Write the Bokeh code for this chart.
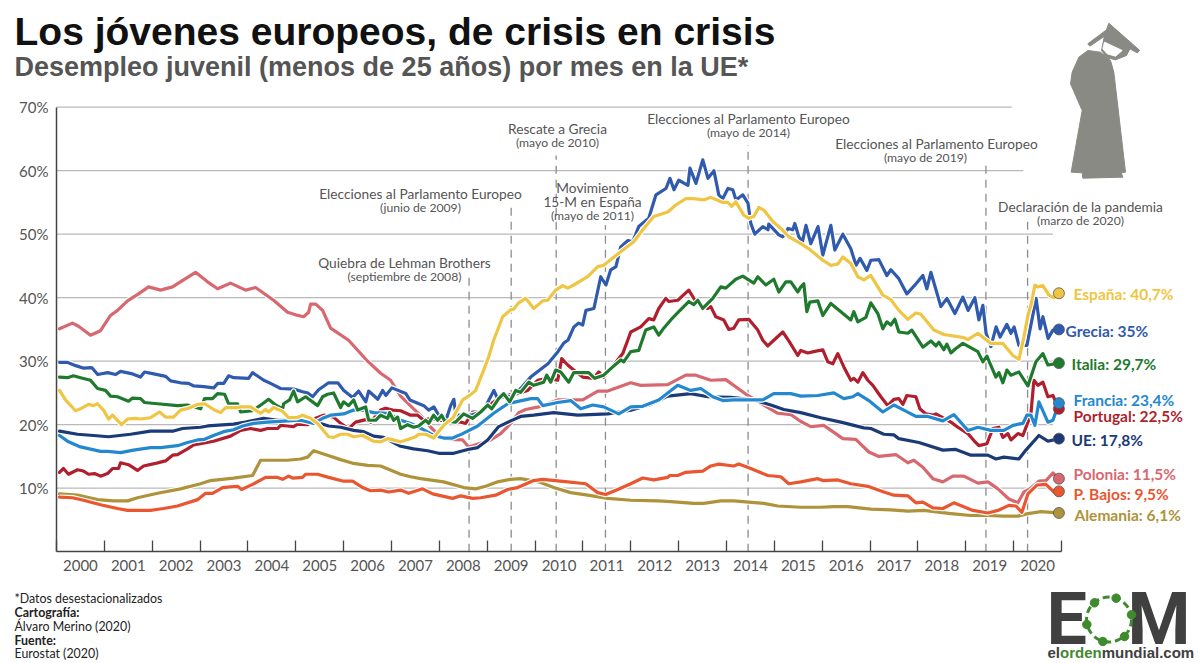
from bokeh.embed import file_html
from bokeh.resources import INLINE
from bokeh.plotting import figure
from bokeh.models import Range1d, FixedTicker, ColumnDataSource
from bokeh.core.properties import value

# ---------- data: (months since Jan 2000, unemployment %) ----------
ESPANA = [(.75,25.4),(2.25,23.9),(4.75,22.2),(6,22.5),(8,23.2),(9.25,23),(10.25,23.3),(11.75,22.3),(13,20.9),(14,21.5),(16.25,20),(17.75,20.9),(19.75,21),(21,20.9),(23.5,21.1),(25.75,22),(27.25,21.2),(29.25,21.2),(31,22.3),(33,22.6),(35.25,23.2),(37,23.3),(39.25,22.4),(41,21.9),(42.25,22.7),(45.25,22.7),(46,22.8),(48.5,22.8),(51,21.8),(52.25,22.4),(53,22),(54.25,22.7),(56.5,22.1),(58,21.1),(60,21.1),(61.5,21.5),(63.5,21),(65.25,20.2),(68,18.1),(69.25,18),(71,18.5),(72.75,18.5),(74.25,18.1),(76.5,18.3),(79.25,17.4),(81,17.3),(82.75,17.8),(86,17.3),(88,17.7),(89.75,18.1),(90.5,18.5),(92.25,18.5),(94.25,17.9),(96.75,19.9),(99,21),(101.5,23.9),(103,24.5),(104.75,25.4),(106.75,28.6),(108,30.7),(109.25,33.3),(111.5,37),(113.5,38.1),(114.25,38.2),(115.5,39.2),(117.25,39.9),(119.25,38.3),(121.5,39.5),(122.75,39.6),(124.75,41.2),(126.5,41.9),(127.75,41.5),(129.25,42),(132.75,43.3),(135.25,44.9),(136.75,45.1),(140.5,47),(144.25,48.8),(146.5,50.7),(149.25,52.8),(152.75,53.5),(154.75,54.6),(157.25,55.6),(159.25,55.6),(161.75,55.4),(163.5,55.8),(166.5,55),(167.75,55),(168.75,54.4),(169.75,55.1),(171.75,53),(173,52.5),(174.25,52.8),(175.5,54.2),(176.75,53.8),(179,52),(181,50.9),(183,49.6),(186,48.5),(188,47.7),(191.5,45.9),(193.5,45.1),(195.25,45.3),(196.5,46.4),(198.5,45.4),(200.25,43.3),(201.75,42.8),(203.5,43.5),(206.5,40.4),(208.5,39.7),(210.5,38),(212.75,36.6),(214.75,37.6),(216,37.4),(219.25,34.9),(221.75,34.2),(226.75,33.7),(227.75,33.4),(230.25,34.4),(233.5,32.8),(236.5,32.8),(239,30.9),(240.5,30.3),(241.75,33.8),(242.75,37.2),(243.5,38.8),(244.5,42),(245.25,41.7),(246.5,41.9),(248,40.4),(249.25,40),(250.5,40.7)]
GRECIA = [(.8,29.8),(2.8,29.8),(4.8,29.3),(6.8,28.9),(8.8,29),(10.3,27.9),(12.8,28.2),(14.8,27.9),(16,28.4),(19,28),(21,27.5),(22,28.3),(24.3,28),(27.3,27.6),(28.5,26.9),(31,26.6),(33,26.5),(34.3,26.1),(36.8,26),(39.3,25.8),(40.3,26.5),(41.8,26.5),(43,27.7),(44.3,27.4),(48,27.3),(49,28.2),(51.8,27),(53.5,26.5),(56,25.7),(59.3,25.6),(61.5,25.2),(62.8,25),(64,24.4),(65.5,25.5),(68,26.6),(70.3,26.6),(71.8,25.4),(74,24.3),(75.5,25.3),(77.3,23.6),(78,25.3),(80.3,24),(81.5,25.4),(82.3,24.6),(83.8,25.8),(87.3,24.9),(88.3,23.9),(91.8,23),(93,22.3),(94.3,22.8),(95.5,21.5),(97.3,20.7),(98.5,23),(99.3,24),(99.8,21.5),(103.5,21.5),(106,22),(107.3,23),(109.3,25.4),(110.3,24),(112.3,24.6),(113.5,24.4),(116,25.7),(118.5,27.5),(122.8,29.6),(125.3,31.5),(126.8,32.9),(127.8,33.3),(129.3,35.4),(130.5,36),(131.5,35.7),(132.3,38),(134.3,38.3),(136,43.3),(137.3,42),(138.5,44.4),(139.8,44.9),(141,48),(142.8,49),(144,48.8),(145.5,51.2),(148,52.5),(149.8,56.2),(152.3,57.2),(153.3,58.8),(154.3,57),(155.5,58.5),(157.8,57.7),(158.3,60.4),(159.8,58),(161.5,61.7),(162.8,58.8),(164.3,60),(165.5,56.2),(166.5,55.6),(167.8,57.2),(169,57),(169.8,55.4),(171.5,56.2),(172.8,54.9),(173.5,51.7),(174.5,50),(176.5,51.2),(177.8,50.7),(178,51.6),(180.5,49.9),(181.5,49.6),(182.8,50.9),(184,50.7),(184.5,51.7),(185.5,49.6),(186.4,48.8),(187.3,51.4),(188.5,48.5),(190.3,51.2),(191.5,46.7),(193.5,51.4),(194.5,47.5),(196.5,50),(198.5,47.7),(199.8,45.1),(200.8,46.2),(202.5,44.3),(203.5,45.9),(205.5,46),(207.5,43.5),(208.5,44.4),(210.5,43),(212.5,40.6),(214.8,42.2),(216.5,43.5),(217.5,41.4),(218.5,44),(221,38.6),(222.5,39.9),(224.5,37.5),(226.5,40.1),(227.8,38),(229.5,40),(230.5,36.5),(231.5,38.8),(232.3,34.4),(233.5,32.3),(234.8,35.4),(235.8,33.8),(237.5,35.8),(238.5,34.4),(239.3,35.4),(240.5,32.5),(242.5,32.5),(244.8,39.9),(245.8,35.1),(246.5,37),(247.8,33.6),(249,34.9),(250.5,35)]
ITALIA = [(.75,27.5),(2.75,27.4),(4.25,27.7),(6,27.4),(8.5,27),(10.25,25.7),(12.25,25.4),(13.5,24.5),(15.25,24.4),(18,23.7),(19,24.2),(21,24.1),(22,23.5),(25.25,23.3),(30.25,23),(32.75,23.1),(36,22.5),(37,24.1),(39,24.1),(40.25,24.9),(42,24.8),(43,23.3),(45.25,23.3),(46,22),(49,22.2),(51.5,23.3),(53,24),(54.75,23.1),(56.5,22.5),(56.75,23.3),(58.25,23.9),(59.25,25.3),(60.25,23.6),(62.25,24.4),(65.25,23),(66.5,24.4),(67.75,24.8),(69.25,25),(71,22.7),(71.75,23.6),(73,23),(74.25,23.9),(75.25,22.3),(77.25,22.8),(78,20.7),(79.75,20.7),(81,21.5),(82.75,21),(83.25,21.9),(84.25,20.7),(85.25,21.2),(86,19.4),(87.75,20),(89.25,19.6),(90.5,19.8),(92.25,20.7),(93,20.2),(94.25,21.5),(95.25,20.7),(96.25,21.5),(97,20.6),(99.75,20.4),(101.75,21.7),(104,21),(106,22),(107.75,23.1),(108.75,22.5),(110.5,24.1),(111.75,24.9),(113.25,23.6),(114.75,25.4),(116,25.1),(118,26.7),(119.25,26.2),(121.75,26.7),(122.5,27.8),(123.5,26.7),(124.75,28.6),(126,28.3),(128,26.7),(129.25,28.2),(133,28.2),(134.5,27.3),(136.75,27.8),(139,29.1),(141,30.2),(141.75,29.9),(143.5,31.5),(145.5,31.7),(147.25,34.9),(149.25,35.4),(150.5,34.1),(151.75,35.2),(153.5,36.5),(155.5,37.8),(158,39.4),(159.25,38.9),(160.25,39.6),(161.5,38.3),(164,39.9),(166,41.7),(167.25,41.5),(169.75,42.9),(171.5,43.4),(174.25,42.3),(175.25,43.3),(177.25,42),(179.25,42.9),(180.5,40.9),(182.25,42.5),(183.5,42.5),(185.25,40.9),(186,41.7),(186.75,42.2),(187.5,37.8),(188.25,39.3),(190.25,39.5),(191.5,37.2),(193.5,39.1),(198.5,36.5),(199.25,37.8),(200.25,36.2),(202.25,36.9),(203.5,39.2),(205.25,37.5),(206.5,35.1),(207.5,36.2),(208.5,35.7),(209.5,36.6),(210.5,34.6),(212.75,34.4),(213.75,34.9),(216.5,32.2),(218.5,33.2),(219.75,32.4),(220.5,33),(221.75,31.8),(222.5,32.7),(223.5,31.3),(224.75,32),(226.5,32.8),(230.25,31.5),(231.5,29.9),(232.5,30.8),(234.75,27.5),(235.5,28.2),(236.5,26.6),(237.5,28.6),(238.5,27.8),(240.5,28.3),(242.75,26.1),(244.75,29.9),(246.5,31.2),(247.75,29.4),(250.5,29.7)]
FRANCIA = [(.75,18.3),(3,17.3),(6,16.5),(11,15.8),(12.75,15.8),(16,15.6),(19.25,16),(23.5,16.4),(26,16.4),(30.25,16.7),(32.75,17.2),(35.25,17.6),(37,17.7),(39.25,18.3),(41.75,18.9),(44.25,19.2),(46.5,19.8),(49.25,20.2),(52.75,20.4),(57.75,20.6),(61,20.7),(64.25,20.2),(66.5,21),(68.5,21.5),(71.75,21.7),(74.25,22.3),(76.5,22.3),(79.25,21.9),(82.75,21.8),(85.25,21),(86,20.7),(88.5,20.2),(91.75,19.2),(94.25,18.3),(96.75,17.9),(99,17.9),(101.5,18.6),(105.25,19.8),(109.25,21.8),(112.75,23.3),(114.75,23.6),(118.5,24.1),(120.25,24.1),(121.5,23),(125.25,23.5),(128.5,23.8),(131,22.5),(134,23.1),(136.75,22.8),(140.5,21.7),(143.5,22.8),(146.5,22.9),(150.5,23.9),(155.25,26.2),(158.5,25.4),(161,25.7),(164,24.4),(166.5,23.8),(169.25,23.9),(176.5,23.9),(179.25,24.9),(183.5,24.9),(186,24.5),(190.25,24.6),(194.25,25),(196.75,24.1),(199,24.4),(200.25,24.9),(203,23.8),(206.5,22),(209.25,23.1),(211.75,22.3),(214.75,21.3),(217.75,21.3),(221.5,20.6),(224.25,21.6),(227.75,19.1),(230.25,19.6),(233.5,19.1),(236.75,19.1),(239,19.9),(241.5,20.2),(242.5,21.5),(243.5,21.5),(244.5,19.9),(245.5,23.6),(247.75,20.4),(249,20.7),(250.5,23.4)]
PORTUGAL = [(.75,12.5),(1.75,13.1),(3,12.2),(5.25,12.9),(6.75,12.7),(8,12.2),(9.5,12.3),(11,11.9),(12.75,12.3),(14,13.1),(15.5,13.1),(16,14),(18,13.7),(20.25,12.8),(21.75,13.5),(24.75,13.9),(26,14.1),(27.25,14.3),(29,15.2),(30.25,15.3),(32.75,16.2),(34.25,16.8),(36,17),(39.25,17.4),(43.5,18.2),(46,19.1),(48.5,19.4),(51,19.1),(52.75,19.4),(55.25,19.4),(56,19.9),(57.75,19.8),(59.25,19.7),(60.25,20.1),(62.75,20),(64.75,21),(66.75,21.5),(69.25,21.2),(71,20.2),(73,19.4),(74.75,20.4),(77.25,20.8),(78.5,20.4),(81,22.3),(82.25,22.6),(84,22.3),(86,22.2),(88.5,21.5),(90.25,21.5),(91.75,20.7),(93.5,21),(95.5,20.7),(101,20.4),(102.25,20.2),(104,22),(106,22),(108.5,23.3),(111.75,24.6),(115.25,24.9),(117.75,25.4),(120.25,27),(122.75,27.3),(125.25,27),(126.25,30.4),(127.75,29.4),(129.25,28.6),(131.5,27.5),(134.25,27.3),(135.5,28.3),(136.75,27.5),(139.25,29.4),(141.5,31.2),(142.75,33.3),(143.5,34.6),(146,35.4),(148,36.7),(149.25,36.5),(150.5,38.3),(152.25,39.9),(153,39.4),(155.25,39.6),(158,41.2),(159.75,39.4),(162.75,38.3),(163.5,38.6),(164.75,37),(166.75,36.5),(168,35),(169.25,35.2),(170.5,36.5),(173,36.6),(175.25,34.9),(176.5,33.3),(177.75,32.4),(179.25,33.3),(181.5,34.6),(183,33.2),(185.25,30.9),(186,31.7),(187.75,31.3),(189.25,31.5),(191.5,31.8),(192.75,29.9),(194,29.6),(195.25,31.2),(196.75,29.1),(198.5,27),(199.25,27.3),(200.25,26.7),(201.5,28.2),(202.75,27),(204,26.2),(206,24.4),(207.75,23),(209.25,24),(210.5,24.1),(211.5,23.2),(212.5,24.6),(214.75,24.4),(215.75,22.5),(217.25,21.7),(219,21.5),(219.75,21.7),(223.5,20.4),(225.25,19.6),(227.75,18.6),(229.25,17.5),(230.5,16.7),(232.5,17),(234,19.4),(235.5,19.6),(236.5,18),(237.75,18.6),(238.5,17.6),(240.25,18.6),(241.5,18.3),(242.75,20.4),(243.5,21.7),(244.25,27),(245.25,26.2),(246.5,26.7),(247.75,24.4),(249,24.6),(250.5,22.5)]
UE = [(.75,19),(5.25,18.5),(9.25,18.3),(13,18.1),(18.5,18.5),(23.5,19),(29.25,19),(31.5,19.4),(36,19.6),(37.75,19.8),(44.25,20.1),(47.25,20.4),(51.75,21),(55.25,20.7),(61,20.7),(66,20.2),(68,19.8),(71,19.6),(74.25,19.1),(76.75,18.9),(79.25,18.2),(81.75,18),(86,16.6),(89.25,16.2),(92.75,15.9),(95.5,15.5),(99.25,15.5),(102.75,16.1),(105.25,16.4),(107.75,17.6),(110.5,19.7),(113.5,20.6),(116,21.3),(119.25,21.5),(124.25,21.9),(130.25,21.5),(137.75,21.7),(143.5,22.3),(148.5,23.2),(152.75,24.5),(158.5,24.9),(162.75,24.4),(168.5,24.3),(174.25,23.9),(178.5,23.1),(181.75,22.4),(186,21.9),(191,21.1),(196,20.4),(201.75,19.5),(203.5,19.4),(206.75,18.5),(209.25,18.4),(210.5,17.8),(215.5,17.2),(221.5,16),(224.75,16.1),(228.5,15.2),(232.75,15.2),(234.75,14.6),(236.75,14.9),(240.5,14.6),(242.25,16),(245.5,18.3),(247.75,17.4),(250.5,17.8)]
POLONIA = [(.75,35.1),(4,36),(5.5,35.5),(8.5,34.1),(11,34.8),(13.5,37.2),(15.25,38),(17.75,39.5),(20.5,40.6),(23,41.7),(26,41.2),(29,41.7),(32.25,43),(34.75,44),(37.75,42.5),(40.25,41.4),(43.5,42.3),(47.25,41.2),(49.75,41.6),(54.25,39.6),(57.75,37.7),(59.75,37.3),(61.75,37),(63,37.7),(63.5,39),(64.75,39),(66.5,38),(68.5,35.2),(73,33.3),(77.75,30),(81,28.1),(83.5,27),(86,24.5),(89.25,22.5),(91.75,21),(93.5,19.6),(96,18.1),(98.5,17.7),(101.5,17.6),(103,16.5),(108.5,17.6),(111,18.6),(113.5,20.2),(115.5,21.9),(117.25,22.4),(120.5,22.8),(125.25,23.9),(127.75,23.9),(131.5,23.9),(135.25,25.3),(137.75,25.3),(143.5,26.6),(146,26.2),(152.75,26.3),(157.25,27.8),(159.75,27.8),(163.5,27),(167.25,27.1),(172.75,24.6),(176.75,23.1),(180.25,21.8),(183.5,21.6),(186,20.5),(188.5,19.7),(191.75,19.9),(196.5,17.8),(199.75,17.7),(203,15.7),(205.5,15),(209.75,15.3),(212.75,14),(214.25,14.4),(216.5,13.3),(219,11.5),(221.5,11),(224,11.9),(226.75,11.9),(230.25,10.8),(232.75,11),(235.25,9.9),(238,8.3),(240.25,7.7),(241.75,9.4),(243,9.8),(245.5,11.1),(247.25,11.2),(249,12.4),(250.5,11.5)]
P_BAJOS = [(.75,8.6),(4,8.5),(6.75,8.1),(11,7.4),(15.25,6.8),(17.75,6.5),(23.5,6.5),(26.75,6.8),(30.25,7.2),(35.25,8.2),(37.25,9.2),(39,9.2),(41.5,10.1),(43.5,10.2),(45.25,10.3),(46.25,9.8),(49,10.6),(52.25,11.7),(55.25,11.7),(56.5,11.4),(58,11.9),(59,11.6),(61.5,11.7),(62.25,12.2),(65.25,12.2),(68,11.7),(71.75,11.1),(74,11.1),(76.5,10.1),(78.5,9.6),(81,9.7),(83,9.4),(86,9.7),(88,9.2),(91.5,9.9),(94,9.1),(99,8.4),(101,8.8),(104,8.4),(106,8.5),(109.75,8.9),(112.75,9.8),(115.25,10.1),(119.25,11.2),(121.5,11.4),(127.75,11),(132.25,10.7),(135.25,9.3),(137.25,9),(140.25,9.8),(143.5,10.7),(146.5,11.6),(149.25,11.3),(152.75,11.7),(153.25,12),(155.25,12),(157.25,12.5),(161.5,12.7),(163.5,13.5),(165.5,13.8),(169.25,13.5),(170.5,13.8),(173.5,13.1),(177.75,12),(181,11.8),(183,10.7),(186,11),(190.25,11.5),(191.5,11.2),(195.25,11.3),(198.5,10.7),(202.75,10.3),(206.75,9.4),(209.25,8.9),(212.75,8.8),(214.75,7.7),(216.5,7.8),(219,6.9),(221.5,6.8),(224.25,7.7),(229,6.5),(232.75,6.1),(235.25,6.5),(238,7.3),(239.75,7.2),(241.25,6.2),(242.75,9.1),(245,10.5),(247.25,10.6),(249.25,9.4),(250.5,9.5)]
ALEMANIA = [(.75,9.1),(5.25,8.9),(10.25,8.2),(14.25,8),(17.75,8),(20.25,8.5),(25.25,9.2),(31,9.9),(36,10.7),(38.5,11.2),(44.25,11.6),(49,12),(51,14.4),(57.75,14.4),(61,14.6),(62.75,14.9),(64.25,15.9),(66.75,15.4),(71,14.5),(74.25,13.9),(77.75,13.6),(81,13.5),(86,12.2),(88.5,11.8),(91,11.5),(96.75,11),(101.75,10.1),(104.75,9.9),(107.25,10.3),(110.25,11),(113.5,11.4),(116,11.5),(120.5,11),(124.25,10.1),(128.5,9.3),(132.75,8.9),(137.75,8.4),(143.5,8.1),(150.25,8),(153.5,7.9),(159.25,7.6),(161.75,7.6),(166,8),(169.25,8),(176.75,7.6),(180.25,7.2),(186,7),(191,7),(194.25,7.1),(197.75,7.1),(203.5,6.7),(208.5,6.6),(212.75,6.4),(216.75,6.5),(223.5,6),(228.5,5.7),(232.75,5.7),(236.75,5.6),(240.25,5.6),(242.75,6),(246,6.3),(250.5,6.1)]

COLORS = {"España":"#EFC544","Grecia":"#2F5AAE","Italia":"#1F7A2E","Francia":"#2488CF","Portugal":"#B01F2E","UE":"#1B3A78","Polonia":"#D8686F","P. Bajos":"#E9562F","Alemania":"#AE933A"}
# bottom to top
SERIES_ORDER = [("Polonia",POLONIA),("Alemania",ALEMANIA),("P. Bajos",P_BAJOS),("Portugal",PORTUGAL),("UE",UE),("Grecia",GRECIA),("Francia",FRANCIA),("Italia",ITALIA),("España",ESPANA)]
FINAL_VALUES = {"España":"40,7","Grecia":"35","Italia":"29,7","Francia":"23,4","Portugal":"22,5","UE":"17,8","Polonia":"11,5","P. Bajos":"9,5","Alemania":"6,1"}

YEAR_LABELS = [str(y) for y in range(2000, 2021)]
PCT_TICKS = [10,20,30,40,50,60,70]
PCT_LABELS = ["10%","20%","30%","40%","50%","60%","70%"]
GRID_END_YEARS = [2020.82,2020.82,2020.82,2020.82,2020.82,2020.2,2019.96]
EVENT_YEARS = [2008.62,2009.5,2010.44,2011.47,2014.45,2019.42,2020.29]

# ---------- layout constants ----------
W, H = 1200, 663
ORG = 0
X_PER_YEAR = 47.86
Y_PER_PCT = 6.35
X0, Y0 = 56, 551.2
MONTHS_PER_YEAR = 11.96
FS = "Lato"
GREY = "#555555"

p = figure(width=W, height=H, output_backend="svg", toolbar_location=None, min_border=0,
           x_range=Range1d(2000 + (ORG - X0) / X_PER_YEAR, 2000 + (ORG + W - X0) / X_PER_YEAR),
           y_range=Range1d((Y0 - ORG - H) / Y_PER_PCT, (Y0 - ORG) / Y_PER_PCT))
p.extra_x_ranges = {"px": Range1d(ORG, ORG + W)}
p.extra_y_ranges = {"px": Range1d(ORG + H, ORG)}
p.outline_line_color = None
p.grid.visible = False
p.background_fill_color = "white"

# axes
xa = p.xaxis[0]
xa.fixed_location = 0
xa.bounds = (2000, 2021)
xa.ticker = FixedTicker(ticks=[y + .5 for y in range(2000, 2021)], minor_ticks=list(range(2000, 2022)))
xa.major_label_overrides = {y + .5: lab for y, lab in zip(range(2000, 2021), YEAR_LABELS)}
xa.major_tick_in = 0; xa.major_tick_out = 0
xa.minor_tick_in = 11; xa.minor_tick_out = 0
xa.minor_tick_line_color = "#444444"; xa.minor_tick_line_width = 1.3
xa.axis_line_color = "#444444"; xa.axis_line_width = 1.5
xa.major_label_text_font = FS; xa.major_label_text_font_size = "15px"; xa.major_label_text_color = GREY
xa.major_label_standoff = 8

ya = p.yaxis[0]
ya.fixed_location = 2000
ya.bounds = (0, 70)
ya.ticker = FixedTicker(ticks=PCT_TICKS)
ya.major_label_overrides = dict(zip(PCT_TICKS, PCT_LABELS))
ya.major_tick_in = 0; ya.major_tick_out = 0; ya.minor_tick_line_color = None
ya.axis_line_color = "#444444"; ya.axis_line_width = 1.5
ya.major_label_text_font = FS; ya.major_label_text_font_size = "15px"; ya.major_label_text_color = GREY
ya.major_label_standoff = 8

# grid lines
p.segment(x0=[2000] * 7, y0=PCT_TICKS, x1=GRID_END_YEARS, y1=PCT_TICKS, line_color="#b9b9b9", line_width=1.3)

# event lines
EVENT_TOPS = [44, 54.5, 62.4, 51.4, 64, 60.8, 52.3]
p.segment(x0=EVENT_YEARS, y0=[0] * 7, x1=EVENT_YEARS, y1=EVENT_TOPS, line_color="#8c8c8c", line_width=1.3, line_dash=value([8, 6]))

# series
for name, pts in SERIES_ORDER:
    src = ColumnDataSource(dict(x=[2000 + m / MONTHS_PER_YEAR for m, _ in pts], y=[v for _, v in pts]))
    p.line("x", "y", source=src, line_color="white", line_width=5.4, line_join="round")
    p.line("x", "y", source=src, line_color=COLORS[name], line_width=3.2, line_join="round", line_cap="round")

# end dots
DOT_ORDER = ["Alemania","P. Bajos","Polonia","UE","Portugal","Francia","Italia","Grecia","España"]
pts_by_name = dict(SERIES_ORDER)
p.scatter(x=[2000 + pts_by_name[n][-1][0] / MONTHS_PER_YEAR for n in DOT_ORDER], y=[pts_by_name[n][-1][1] for n in DOT_ORDER],
          size=11, fill_color=[COLORS[n] for n in DOT_ORDER], line_color="#555555", line_width=0.8)

def txt(x, y, s, size, color=GREY, bold=False, align="left", font=FS):
    p.text(x=[x], y=[y], text=[s], text_font=value(font), text_font_size=f"{size}px", text_color=color,
           text_font_style="bold" if bold else "normal", text_align=align, text_baseline="middle",
           x_range_name="px", y_range_name="px")

# end labels
END_LABEL_POS = {"España":(1073,293),"Grecia":(1065,330),"Italia":(1071,363),"Francia":(1073,399),"Portugal":(1073,415),"UE":(1071,439),"Polonia":(1073,473),"P. Bajos":(1073,493),"Alemania":(1074,514)}
for n, (lx, ly) in END_LABEL_POS.items():
    txt(lx, ly, f"{n}: {FINAL_VALUES[n]}%", 15.5, COLORS[n], True)

# titles
txt(14, 31, "Los jóvenes europeos, de crisis en crisis", 39, "#111111", True, font="Liberation Sans")
txt(14, 66, "Desempleo juvenil (menos de 25 años) por mes en la UE*", 27, "#555555", True, font="Liberation Sans")

# event texts
SUB = 12.2
EVENT_TEXTS = [
    (404, 262, "Quiebra de Lehman Brothers", 13.7), (404, 276, "(septiembre de 2008)", SUB),
    (420, 193, "Elecciones al Parlamento Europeo", 13.7), (420, 207, "(junio de 2009)", SUB),
    (557, 128, "Rescate a Grecia", 13.7), (557, 142, "(mayo de 2010)", SUB),
    (592, 187, "Movimiento", 13.7), (592, 201, "15-M en España", 13.7), (592, 215, "(mayo de 2011)", SUB),
    (748, 118, "Elecciones al Parlamento Europeo", 13.7), (748, 132, "(mayo de 2014)", SUB),
    (936, 143, "Elecciones al Parlamento Europeo", 13.7), (925, 157, "(mayo de 2019)", SUB),
    (1080, 206, "Declaración de la pandemia", 13.7), (1080, 220, "(marzo de 2020)", SUB),
]
for ex, ey, s, fs in EVENT_TEXTS:
    txt(ex, ey, s, fs, "#555555", False, "center")

# footer
FOOT_TEXTS = [(598, "*Datos desestacionalizados", False), (612, "Cartografía:", True), (626, "Álvaro Merino (2020)", False), (640, "Fuente:", True), (653, "Eurostat (2020)", False)]
for fy, s, b in FOOT_TEXTS:
    txt(14, fy, s, 12.4, "#222222", b)

# graduate icon (reference pixel coordinates)
ICON = "#8A8A85"
def ix(v): return [1000 + a / 3 for a in v]
def iy(v): return [b / 3 for b in v]
p.patch(ix([262,300,330,340,375,362,367,247,245,212,245,210,215,235]), iy([150,155,180,215,515,517,530,533,517,515,330,250,215,170]),
        fill_color=ICON, line_color=ICON, x_range_name="px", y_range_name="px")
p.patch(ix([325,418,410,388,378,345,320,303,312]), iy([68,150,157,145,165,178,172,150,105]),
        fill_color=ICON, line_color=ICON, x_range_name="px", y_range_name="px")
p.patch(ix([312,365,345,320,307]), iy([125,150,167,160,145]), fill_color="white", line_color="white", x_range_name="px", y_range_name="px")
p.patch(ix([262,268,330,322]), iy([130,137,95,85]), fill_color=ICON, line_color=ICON, x_range_name="px", y_range_name="px")

# logo
LOGO = "#404040"
LOGO_G = "#3F8A2E"
txt(1046, 619, "E", 72, LOGO, True, font="Roboto")
txt(1190, 619, "M", 72, LOGO, True, "right", font="Roboto")
p.scatter(x=[1108.5], y=[619], marker="circle", size=45, fill_color=None, line_color=LOGO_G,
          line_width=3, line_dash=value([7, 4]), x_range_name="px", y_range_name="px")
p.scatter(x=ix([282,347,393,372,307,259]), y=[570 + b / 3 for b in [97,83,133,198,213,162]], size=8.5, fill_color=LOGO_G, line_color=LOGO_G,
          x_range_name="px", y_range_name="px")
txt(1047, 652, "el", 15, LOGO, True, font="Liberation Sans")
txt(1059.5, 652, "orden", 15, LOGO_G, True, font="Liberation Sans")
txt(1101.2, 652, "mundial.com", 15, LOGO, True, font="Liberation Sans")

open("out.html", "w").write(file_html(p, INLINE))
